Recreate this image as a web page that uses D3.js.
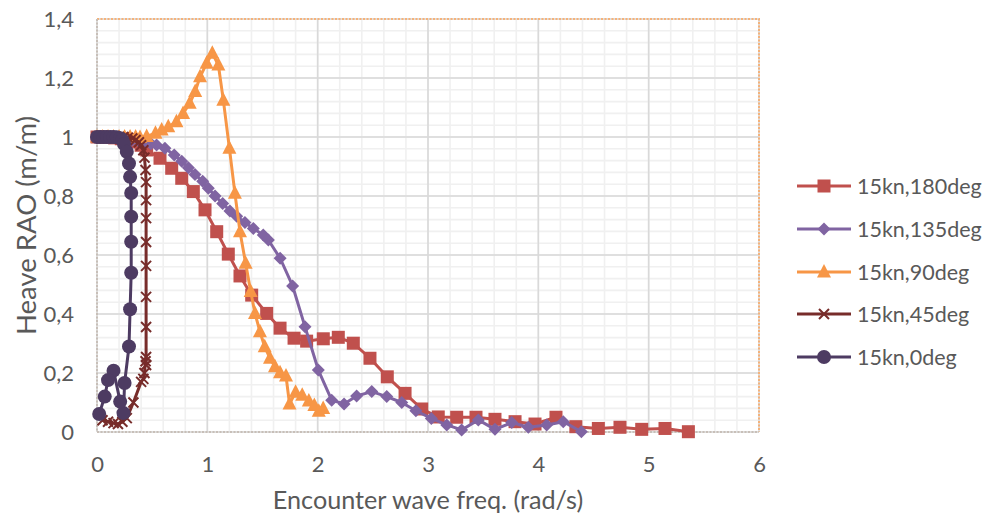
<!DOCTYPE html>
<html>
<head>
<meta charset="utf-8">
<script src="https://cdnjs.cloudflare.com/ajax/libs/d3/7.8.5/d3.min.js"></script>
<style>
  html, body { margin: 0; padding: 0; background: #fff; }
  svg { display: block; font-family: Lato, "Open Sans", sans-serif; }
</style>
</head>
<body>
<svg id="chart" width="986" height="517"></svg>
<script>
// Heave RAO vs encounter wave frequency, 15 knots, five headings
const seriesNames = ["15kn,180deg", "15kn,135deg", "15kn,90deg", "15kn,45deg", "15kn,0deg"];
const seriesColors = ["#C0504D", "#8064A2", "#F79646", "#772C2A", "#4D3B62"];
const seriesMarkers = ["square", "diamond", "triangle", "cross", "circle"];

const freq180 = [0, 0.05, 0.1, 0.16, 0.22, 0.28, 0.34, 0.4, 0.45, 0.571, 0.677, 0.768, 0.873, 0.979, 1.085, 1.19, 1.296, 1.402, 1.538, 1.659, 1.786, 1.9, 2.051, 2.187, 2.323, 2.474, 2.631, 2.792, 2.943, 3.093, 3.26, 3.435, 3.607, 3.789, 3.97, 4.16, 4.34, 4.544, 4.74, 4.937, 5.148, 5.36];
const rao180  = [1, 1, 0.999, 0.997, 0.994, 0.99, 0.983, 0.972, 0.956, 0.928, 0.894, 0.86, 0.815, 0.753, 0.679, 0.603, 0.529, 0.464, 0.402, 0.352, 0.318, 0.308, 0.316, 0.321, 0.301, 0.25, 0.187, 0.131, 0.078, 0.051, 0.05, 0.05, 0.043, 0.035, 0.027, 0.05, 0.018, 0.012, 0.016, 0.009, 0.012, 0.001];

const freq135 = [0, 0.05, 0.1, 0.15, 0.2, 0.26, 0.32, 0.38, 0.44, 0.49, 0.54, 0.616, 0.7, 0.768, 0.828, 0.888, 0.958, 1.009, 1.07, 1.139, 1.205, 1.266, 1.341, 1.417, 1.507, 1.553, 1.66, 1.773, 1.885, 2.006, 2.127, 2.239, 2.353, 2.49, 2.626, 2.762, 2.89, 3.03, 3.17, 3.305, 3.456, 3.607, 3.759, 3.909, 4.076, 4.226, 4.39];
const rao135  = [1, 1, 1, 0.999, 0.998, 0.995, 0.99, 0.986, 0.981, 0.977, 0.973, 0.962, 0.939, 0.918, 0.896, 0.873, 0.85, 0.826, 0.8, 0.775, 0.749, 0.731, 0.71, 0.69, 0.668, 0.651, 0.589, 0.495, 0.357, 0.21, 0.108, 0.095, 0.122, 0.137, 0.12, 0.1, 0.072, 0.046, 0.024, 0.007, 0.041, 0.009, 0.032, 0.016, 0.024, 0.035, 0.001];

const freq90 = [0, 0.05, 0.1, 0.15, 0.2, 0.25, 0.3, 0.35, 0.39, 0.45, 0.53, 0.586, 0.646, 0.72, 0.78, 0.84, 0.89, 0.934, 0.994, 1.045, 1.1, 1.145, 1.2, 1.25, 1.296, 1.347, 1.393, 1.432, 1.477, 1.52, 1.568, 1.613, 1.659, 1.713, 1.745, 1.8, 1.86, 1.92, 1.97, 2.01, 2.05];
const rao90  = [1, 1, 1, 1, 1, 1, 1, 1, 0.998, 1.002, 1.013, 1.024, 1.035, 1.052, 1.08, 1.114, 1.154, 1.204, 1.25, 1.284, 1.244, 1.125, 0.962, 0.809, 0.679, 0.572, 0.476, 0.402, 0.34, 0.289, 0.25, 0.221, 0.201, 0.19, 0.095, 0.135, 0.125, 0.105, 0.09, 0.07, 0.08];

const freq45 = [0, 0.04, 0.08, 0.12, 0.16, 0.2, 0.24, 0.28, 0.32, 0.35, 0.38, 0.4, 0.42, 0.43, 0.44, 0.445, 0.445, 0.445, 0.445, 0.445, 0.445, 0.445, 0.445, 0.445, 0.44, 0.43, 0.42, 0.4, 0.33, 0.27, 0.23, 0.19, 0.15, 0.1, 0.05];
const rao45  = [1, 1, 1, 1, 1, 1, 1, 0.998, 0.995, 0.99, 0.982, 0.972, 0.955, 0.93, 0.888, 0.847, 0.786, 0.725, 0.644, 0.563, 0.458, 0.356, 0.254, 0.227, 0.24, 0.2, 0.18, 0.17, 0.1, 0.047, 0.035, 0.027, 0.03, 0.035, 0.04];

const freq0 = [0, 0.03, 0.06, 0.09, 0.12, 0.15, 0.18, 0.21, 0.23, 0.245, 0.27, 0.29, 0.3, 0.31, 0.31, 0.31, 0.31, 0.3, 0.29, 0.25, 0.24, 0.21, 0.15, 0.1, 0.07, 0.02];
const rao0  = [1, 1, 1, 1, 1, 1, 0.999, 0.996, 0.99, 0.976, 0.95, 0.91, 0.865, 0.81, 0.73, 0.645, 0.54, 0.416, 0.29, 0.166, 0.064, 0.103, 0.208, 0.176, 0.12, 0.061];

const xTicks = [0, 1, 2, 3, 4, 5, 6];
const yTicks = [0, 0.2, 0.4, 0.6, 0.8, 1, 1.2, 1.4];
const xTitle = "Encounter wave freq. (rad/s)";
const yTitle = "Heave RAO (m/m)";

const seriesFreq = [freq180, freq135, freq90, freq45, freq0];
const seriesRao = [rao180, rao135, rao90, rao45, rao0];
const series = seriesNames.map((name, i) => ({
  name, color: seriesColors[i], marker: seriesMarkers[i],
  points: seriesFreq[i].map((f, j) => ({ x: f, y: seriesRao[i][j] }))
}));

const svg = d3.select("#chart");
const plot = { left: 97, right: 759, top: 19, bottom: 432 };
const x = d3.scaleLinear().domain([0, 6]).range([plot.left, plot.right]);
const y = d3.scaleLinear().domain([0, 1.4]).range([plot.bottom, plot.top]);
const textColor = "#595959";
const tickFont = "22px";
const xTitleFont = "25.2px";
const yTitleFont = "27.5px";
const legendFont = "21.5px";

// gridlines: minor first, then major
const grid = svg.append("g");
grid.selectAll(".xminor").data(d3.range(0, 6.001, 0.2)).join("line")
  .attr("x1", d => x(d)).attr("x2", d => x(d))
  .attr("y1", plot.top).attr("y2", plot.bottom)
  .attr("stroke", "#F0F0F0").attr("stroke-width", 1.6);
grid.selectAll(".yminor").data(d3.range(0, 1.4001, 0.04)).join("line")
  .attr("x1", plot.left).attr("x2", plot.right)
  .attr("y1", d => y(d)).attr("y2", d => y(d))
  .attr("stroke", "#F0F0F0").attr("stroke-width", 1.6);
grid.selectAll(".xmajor").data(xTicks).join("line")
  .attr("x1", d => x(d)).attr("x2", d => x(d))
  .attr("y1", plot.top).attr("y2", plot.bottom)
  .attr("stroke", "#D9D9D9").attr("stroke-width", 1.6);
grid.selectAll(".ymajor").data(yTicks).join("line")
  .attr("x1", plot.left).attr("x2", plot.right)
  .attr("y1", d => y(d)).attr("y2", d => y(d))
  .attr("stroke", "#D9D9D9").attr("stroke-width", 1.6);

// plot area border (top/right) and axis lines (left/bottom)
svg.append("path")
  .attr("d", `M${plot.left},${plot.top}H${plot.right}V${plot.bottom}`)
  .attr("fill", "none").attr("stroke", "#F5B27A").attr("stroke-width", 2)
  .attr("stroke-dasharray", "2,1.5");
svg.append("path")
  .attr("d", `M${plot.left},${plot.top}V${plot.bottom}H${plot.right}`)
  .attr("fill", "none").attr("stroke", "#C8BFB8").attr("stroke-width", 2)
  .attr("stroke-dasharray", "2,1.5");

// axes (labels only)
const xAxis = d3.axisBottom(x).tickValues(xTicks).tickSize(0).tickPadding(0)
  .tickFormat(d => String(d).replace(".", ","));
const gx = svg.append("g").attr("transform", `translate(0,${plot.bottom})`).call(xAxis);
gx.select(".domain").remove();
gx.selectAll("text").attr("y", 32).attr("dy", "0.35em")
  .attr("fill", textColor).style("font-size", tickFont).style("font-family", "Lato, sans-serif");

const yAxis = d3.axisLeft(y).tickValues(yTicks).tickSize(0).tickPadding(0)
  .tickFormat(d => String(+d.toFixed(1)).replace(".", ","));
const gy = svg.append("g").attr("transform", `translate(${plot.left},0)`).call(yAxis);
gy.select(".domain").remove();
gy.selectAll("text").attr("x", -23).attr("fill", textColor)
  .style("font-size", tickFont).style("font-family", "Lato, sans-serif");

svg.append("text").attr("x", (plot.left + plot.right) / 2).attr("y", 500)
  .attr("text-anchor", "middle").attr("dy", "0.35em")
  .attr("fill", textColor).style("font-size", xTitleFont).text(xTitle);
svg.append("text")
  .attr("transform", `translate(26,${(plot.top + plot.bottom) / 2}) rotate(-90)`)
  .attr("text-anchor", "middle").attr("dy", "0.35em")
  .attr("fill", textColor).style("font-size", yTitleFont).text(yTitle);

// marker drawing
function drawMarker(sel, kind, color) {
  if (kind === "square") {
    sel.append("rect").attr("x", -6.5).attr("y", -6.5).attr("width", 13).attr("height", 13)
      .attr("fill", color);
  } else if (kind === "diamond") {
    sel.append("path").attr("d", "M0,-6.5L6.5,0L0,6.5L-6.5,0Z").attr("fill", color);
  } else if (kind === "triangle") {
    sel.append("path").attr("d", "M0,-8L7,5.5L-7,5.5Z").attr("fill", color);
  } else if (kind === "circle") {
    sel.append("circle").attr("r", 7).attr("fill", color);
  } else if (kind === "cross") {
    sel.append("path").attr("d", "M-5,-5L5,5M-5,5L5,-5")
      .attr("stroke", color).attr("stroke-width", 2).attr("fill", "none");
  }
}

const line = d3.line().x(d => x(d.x)).y(d => y(d.y));
const dataLayer = svg.append("g");
series.forEach(s => {
  const g = dataLayer.append("g");
  g.append("path").datum(s.points).attr("d", line)
    .attr("fill", "none").attr("stroke", s.color).attr("stroke-width", 3)
    .attr("stroke-linejoin", "round");
  g.selectAll("g.m").data(s.points).join("g")
    .attr("transform", d => `translate(${x(d.x)},${y(d.y)})`)
    .each(function () { drawMarker(d3.select(this), s.marker, s.color); });
});

// legend
const legend = svg.append("g");
const legendRows = [186, 229, 272, 314, 357];
series.forEach((s, i) => {
  const row = legend.append("g").attr("transform", `translate(0,${legendRows[i]})`);
  row.append("line").attr("x1", 797).attr("x2", 851).attr("y1", 0).attr("y2", 0)
    .attr("stroke", s.color).attr("stroke-width", 3);
  const m = row.append("g").attr("transform", "translate(824,0)");
  drawMarker(m, s.marker, s.color);
  row.append("text").attr("x", 857).attr("y", 0).attr("dy", "0.35em")
    .attr("fill", textColor).style("font-size", legendFont).text(s.name);
});
</script>
</body>
</html>
